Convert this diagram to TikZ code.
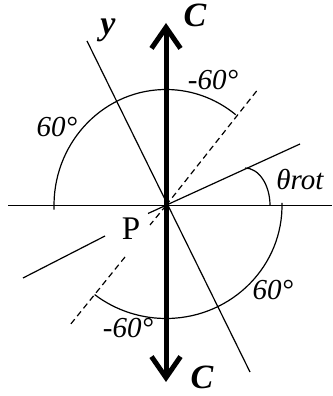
\documentclass[tikz,border=0pt]{standalone}
\usepackage{fontspec}
\setmainfont{Liberation Serif}
\usetikzlibrary{arrows.meta}
\begin{document}
\begin{tikzpicture}[x=1pt,y=1pt,
  thinline/.style={line width=1.2pt},
  dashline/.style={line width=1.2pt, dash pattern=on 6pt off 4pt},
  lab/.style={font=\fontsize{29}{31}\selectfont\itshape, inner sep=0pt, anchor=base},
  axlab/.style={font=\fontsize{34}{38}\selectfont\bfseries\itshape, inner sep=0pt, anchor=base},
  bigarrow/.style={line width=5pt, {Straight Barb[length=21pt,width=29pt]}-{Straight Barb[length=21pt,width=29pt]}}]
\useasboundingbox (0,0) rectangle (332,396);
\coordinate (P) at (166,190.5);
% horizontal axis
\coordinate (hL) at (8,190.5);
\coordinate (hR) at (332,190.5);
\draw[thinline] (hL) -- (hR);
% y axis line
\coordinate (yA) at (87,355);
\coordinate (yB) at (250,24);
\draw[thinline] (yA) -- (yB);
% theta rot line
\coordinate (rA) at (148,182.5);
\coordinate (rB) at (300,252);
\coordinate (rC) at (105,160);
\coordinate (rD) at (23,118);
\draw[thinline] (rA) -- (rB);
\draw[thinline] (rC) -- (rD);
% dashed line
\coordinate (dA) at (259,308);
\coordinate (dB) at (150,171);
\coordinate (dC) at (125,139);
\coordinate (dD) at (70,71);
\draw[dashline] (P) -- (dA);
\draw[dashline] (P) -- (dB);
\draw[dashline] (dC) -- (dD);
% arcs
\draw[thinline] (P) ++(182:112 and 116) arc[start angle=182,end angle=51.5,x radius=112,y radius=116];
\draw[thinline] (P) ++(1.3:116 and 113) arc[start angle=1.3,end angle=-128,x radius=116,y radius=113];
\draw[thinline] (245,228) arc[start angle=90,end angle=0,x radius=25,y radius=37.5];
% big arrow C
\coordinate (Ctop) at (166,373);
\coordinate (Cbot) at (166,14);
\draw[bigarrow] (Cbot) -- (Ctop);
% labels
\node[axlab] (ylab) at (108,361) {y};
\node[axlab] (Ct) at (195,369) {C};
\node[axlab] (Cb) at (202,8) {C};
\node[lab] (m60a) at (213,306) {-60°};
\node[lab] (p60a) at (57,259) {60°};
\node[lab] (th) at (300,206) {θrot};
\node[font=\fontsize{33}{36}\selectfont, inner sep=0pt, anchor=base] (Plab) at (131,156) {P};
\node[lab] (p60b) at (273,96) {60°};
\node[lab] (m60b) at (128,58) {-60°};
\end{tikzpicture}
\end{document}
